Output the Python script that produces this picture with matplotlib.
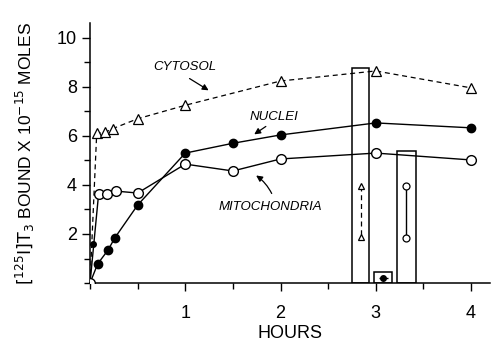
import matplotlib.pyplot as plt
from matplotlib.ticker import MultipleLocator

plt.rcParams['font.family'] = ['Liberation Sans', 'DejaVu Sans']

# time course (hours) and bound T3 (x 10^-15 moles)
t_cyt = [0, 0.07, 0.16, 0.24, 0.5, 1, 2, 3, 4]
cytosol = [0, 6.1, 6.15, 6.3, 6.7, 7.25, 8.24, 8.65, 7.96]

t_nuc = [0, 0.08, 0.19, 0.26, 0.5, 1, 1.5, 2, 3, 4]
nuclei = [0, 0.78, 1.35, 1.84, 3.18, 5.3, 5.7, 6.04, 6.53, 6.33]
nuc_early_t = [0.03]
nuc_early = [1.6]

t_mito = [0, 0.09, 0.18, 0.27, 0.5, 1, 1.5, 2, 3, 4]
mito = [0, 3.63, 3.63, 3.75, 3.67, 4.85, 4.57, 5.06, 5.3, 5.02]

# bars at 3 h
bar_left = [2.75, 2.98, 3.22]
bar_right = [2.93, 3.17, 3.42]
bar_height = [8.78, 0.45, 5.4]

# points inside bars
cyt_bar_x = [2.85, 2.85]
cyt_bar_y = [3.96, 1.88]
mito_bar_x = [3.32, 3.32]
mito_bar_y = [3.96, 1.84]
nuc_bar_x = [3.08]
nuc_bar_y = [0.2]

fig = plt.figure(figsize=(4.92, 3.56), dpi=100)
ax = fig.add_axes([0.183, 0.205, 0.813, 0.73])

widths = [r - l for l, r in zip(bar_left, bar_right)]
ax.bar(bar_left, bar_height, width=widths, align='edge', fill=False,
       edgecolor='black', linewidth=1.1, zorder=1)

ax.plot(t_cyt, cytosol, color='black', ls=(0, (4, 3)), lw=0.9, marker='^',
        mfc='white', mec='black', ms=6.5, mew=0.9, zorder=3)
ax.plot(t_nuc, nuclei, color='black', lw=1.0, marker='o', mfc='black',
        mec='black', ms=6, zorder=3)
ax.plot(nuc_early_t, nuc_early, ls='none', marker='o', mfc='black',
        mec='black', ms=4, zorder=3)
ax.plot(t_mito, mito, color='black', lw=1.0, marker='o', mfc='white',
        mec='black', ms=7, mew=1.0, zorder=3)

ax.plot(cyt_bar_x, cyt_bar_y, color='black', ls=(0, (4, 3)), lw=0.9,
        marker='^', mfc='white', mec='black', ms=5, mew=0.9, zorder=3)
ax.plot(mito_bar_x, mito_bar_y, color='black', lw=1.0, marker='o',
        mfc='white', mec='black', ms=5, mew=0.9, zorder=3)
ax.errorbar(nuc_bar_x, nuc_bar_y, xerr=0.05, fmt='o', color='black',
            ms=4, elinewidth=1.0, capsize=0, zorder=3)

# labels with arrows
arrow = dict(arrowstyle='-|>', color='black', lw=0.9, mutation_scale=9)
ax.text(1.0, 8.8, 'CYTOSOL', style='italic', fontsize=9.5, ha='center', va='center')
ax.annotate('', xy=(1.27, 7.8), xytext=(1.02, 8.4), arrowprops=arrow)
ax.text(1.93, 6.78, 'NUCLEI', style='italic', fontsize=9.5, ha='center', va='center')
ax.annotate('', xy=(1.70, 6.0), xytext=(1.87, 6.45), arrowprops=arrow)
ax.text(1.89, 3.1, 'MITOCHONDRIA', style='italic', fontsize=9.5, ha='center', va='center')
ax.annotate('', xy=(1.72, 4.45), xytext=(1.92, 3.55),
            arrowprops=dict(arrow, connectionstyle='arc3,rad=0.15'))

ax.set_xlim(0, 4.2)
ax.set_ylim(0, 10.6)
ax.xaxis.set_major_locator(MultipleLocator(1))
ax.xaxis.set_minor_locator(MultipleLocator(0.5))
ax.set_yticks([2, 4, 6, 8, 10])
ax.yaxis.set_minor_locator(MultipleLocator(1))
ax.set_xticks([1, 2, 3, 4])
ax.tick_params(which='major', length=6, width=1, labelsize=13, direction='out')
ax.tick_params(which='minor', length=4, width=1, direction='out')
ax.tick_params(axis='x', pad=10)

for s in ['top', 'right']:
    ax.spines[s].set_visible(False)
for s in ['left', 'bottom']:
    ax.spines[s].set_linewidth(1.1)

ax.set_xlabel('HOURS', fontsize=13, labelpad=2)
ax.set_ylabel(r'$\left[{}^{125}\mathrm{I}\right]\mathrm{T}_3$ BOUND X 10$^{-15}$ MOLES',
              fontsize=12.5, labelpad=14)

fig.savefig('out.png', dpi=100)
